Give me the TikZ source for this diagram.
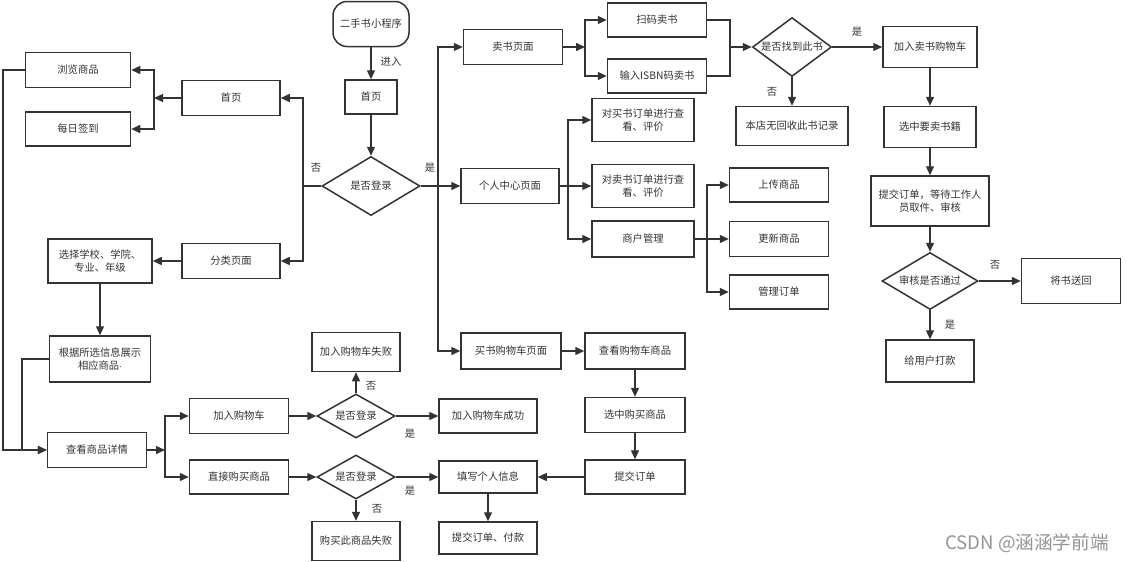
\documentclass[tikz,border=0pt]{standalone}
\usepackage{fontspec}
\newfontfamily\cjk{Noto Sans CJK SC}
\usetikzlibrary{
    arrows.meta,
    shapes.geometric
}
\definecolor{ink}{HTML}{333333}

\begin{document}
\begin{tikzpicture}[
    x=1pt, y=-1pt,
    every node/.style={
        font=\cjk\fontsize{10.3}{12.5}\selectfont,
        text=ink,
    },
    box/.style args = {#1/#2}{
        rectangle,
        draw=ink,
        line width=1.5pt,
        minimum width=#1pt,
        minimum height=#2pt,
        inner sep=1pt,
        align=center,
    },
    startbox/.style={
        box=76/45,
        rounded corners=14pt,
    },
    decision/.style args = {#1/#2}{
        diamond,
        draw=ink,
        line width=1.5pt,
        aspect=1.6,
        inner sep=0pt,
        minimum width=#1pt,
        minimum height=#2pt,
    },
    line/.style={
        draw=ink,
        line width=1.4pt,
    },
    arr/.style={
        line,
        -{Triangle[length=9pt,width=8pt]},
    },
    lbl/.style={
        inner sep=0pt,
    },
    wmark/.style={
        font=\cjk\fontsize{18.6}{20}\selectfont,
        text=black!42,
    },
]
    \fill[white] (0,0) rectangle (1127,562);

    % top and login
    \node[startbox] (start) at (371,24) {二手书小程序};
    \node[box=52/34] (home) at (371,97) {首页};
    \node[decision=98/59] (login) at (371,186) {是否登录};

    % not logged in
    \node[box=98/35] (homeL) at (231,98) {首页};
    \node[box=105/35] (browse) at (78,70) {浏览商品};
    \node[box=105/34] (sign) at (78,129) {每日签到};
    \node[box=98/35] (cat) at (231,261) {分类页面};
    \node[box=104/44] (school) at (100,261) {选择学校、学院、\\专业、年级};
    \node[box=101/46] (show) at (100,359) {根据所选信息展示\\相应商品${\cdot}$};
    \node[box=99/35] (detail) at (97,450) {查看商品详情};
    \node[box=99/35] (addcart) at (239,416) {加入购物车};
    \node[box=99/34] (buynow) at (239,477) {直接购买商品};
    \node[decision=78/44] (chkA) at (356,416) {是否登录};
    \node[decision=78/44] (chkB) at (356,477) {是否登录};
    \node[box=88/39] (addfail) at (356,352) {加入购物车失败};
    \node[box=88/39] (buyfail) at (356,541) {购买此商品失败};
    \node[box=98/34] (addok) at (488,416) {加入购物车成功};
    \node[box=98/32] (fill) at (488,477) {填写个人信息};
    \node[box=98/32] (pay) at (488,538) {提交订单、付款};

    % logged in
    \node[box=99/35] (sellpage) at (513,47) {卖书页面};
    \node[box=98/35] (center) at (510,186) {个人中心页面};
    \node[box=100/36] (cartpage) at (511,351) {买书购物车页面};
    \node[box=100/36] (viewcart) at (635,351) {查看购物车商品};
    \node[box=100/35] (pick) at (635,415) {选中购买商品};
    \node[box=100/34] (submit) at (635,477) {提交订单};

    \node[box=99/34] (scan) at (657,20) {扫码卖书};
    \node[box=99/34] (isbn) at (657,76) {输入ISBN码卖书};
    \node[decision=79/59] (found) at (792,47) {是否找到此书};
    \node[box=112/39] (norec) at (792,126) {本店无回收此书记录};
    \node[box=94/41] (sellcart) at (930,47) {加入卖书购物车};
    \node[box=92/41] (picksell) at (930,127) {选中要卖书籍};
    \node[box=118/50] (wait) at (930,201) {提交订单，等待工作人\\员取件、审核};
    \node[decision=96/57] (audit) at (930,281) {审核是否通过};
    \node[box=99/45] (back) at (1071,281) {将书送回};
    \node[box=88/42] (refund) at (930,361) {给用户打款};

    \node[box=102/43] (buyorder) at (643,120) {对买书订单进行查\\看、评价};
    \node[box=102/43] (sellorder) at (643,186) {对卖书订单进行查\\看、评价};
    \node[box=102/36] (shop) at (643,239) {商户管理};
    \node[box=99/34] (upload) at (779,185) {上传商品};
    \node[box=99/35] (update) at (779,239) {更新商品};
    \node[box=99/34] (manage) at (779,292) {管理订单};

    % junctions
    \coordinate (jNo) at (303,186);
    \coordinate (jYes) at (438,186);
    \coordinate (jHome) at (154,98);
    \coordinate (jLeft) at (3,70);
    \coordinate (jShow) at (22,359);
    \coordinate (jDetail) at (165,450);
    \coordinate (jSell) at (585,47);
    \coordinate (jScan) at (730,47);
    \coordinate (jCenter) at (568,186);
    \coordinate (jShop) at (707,239);

    % connectors
    \draw[arr] (start) -- (home);
    \draw[arr] (home) -- (login);
    \draw[line] (login) -- (jNo);
    \draw[arr] (jNo) |- (homeL);
    \draw[arr] (jNo) |- (cat);
    \draw[arr] (homeL) -- (jHome);
    \draw[arr] (jHome) |- (browse);
    \draw[arr] (jHome) |- (sign);
    \draw[arr] (cat) -- (school);
    \draw[arr] (school) -- (show);
    \draw[arr] (browse) -- (jLeft) |- (detail);
    \draw[arr] (show) -- (jShow) |- (detail);
    \draw[arr] (detail) -- (jDetail);
    \draw[arr] (jDetail) |- (addcart);
    \draw[arr] (jDetail) |- (buynow);
    \draw[arr] (addcart) -- (chkA);
    \draw[arr] (buynow) -- (chkB);
    \draw[arr] (chkA) -- (addfail);
    \draw[arr] (chkA) -- (addok);
    \draw[arr] (chkB) -- (fill);
    \draw[arr] (chkB) -- (buyfail);
    \draw[arr] (fill) -- (pay);

    \draw[line] (login) -- (jYes);
    \draw[arr] (jYes) |- (sellpage);
    \draw[arr] (jYes) -- (center);
    \draw[arr] (jYes) |- (cartpage);
    \draw[arr] (cartpage) -- (viewcart);
    \draw[arr] (viewcart) -- (pick);
    \draw[arr] (pick) -- (submit);
    \draw[arr] (submit) -- (fill);

    \draw[arr] (sellpage) -- (jSell);
    \draw[arr] (jSell) |- (scan);
    \draw[arr] (jSell) |- (isbn);
    \draw[line] (scan) -| (jScan);
    \draw[line] (isbn) -| (jScan);
    \draw[arr] (jScan) -- (found);
    \draw[arr] (found) -- (norec);
    \draw[arr] (found) -- (sellcart);
    \draw[arr] (sellcart) -- (picksell);
    \draw[arr] (picksell) -- (wait);
    \draw[arr] (wait) -- (audit);
    \draw[arr] (audit) -- (back);
    \draw[arr] (audit) -- (refund);

    \draw[arr] (center) -- (sellorder);
    \draw[arr] (jCenter) |- (buyorder);
    \draw[arr] (jCenter) |- (shop);
    \draw[arr] (shop) -- (update);
    \draw[arr] (jShop) |- (upload);
    \draw[arr] (jShop) |- (manage);

    % labels
    \node[lbl] (enter) at (391,62) {进入};
    \node[lbl] (noLogin) at (316,168) {否};
    \node[lbl] (yesLogin) at (430,168) {是};
    \node[lbl] (noA) at (371,386) {否};
    \node[lbl] (yesA) at (410,434) {是};
    \node[lbl] (yesB) at (410,491) {是};
    \node[lbl] (noB) at (377,509) {否};
    \node[lbl] (noFound) at (772,92) {否};
    \node[lbl] (yesFound) at (857,32) {是};
    \node[lbl] (noAudit) at (995,265) {否};
    \node[lbl] (yesAudit) at (950,325) {是};

    \node[wmark] (csdn) at (1027,543) {CSDN @涵涵学前端};
\end{tikzpicture}
\end{document}
